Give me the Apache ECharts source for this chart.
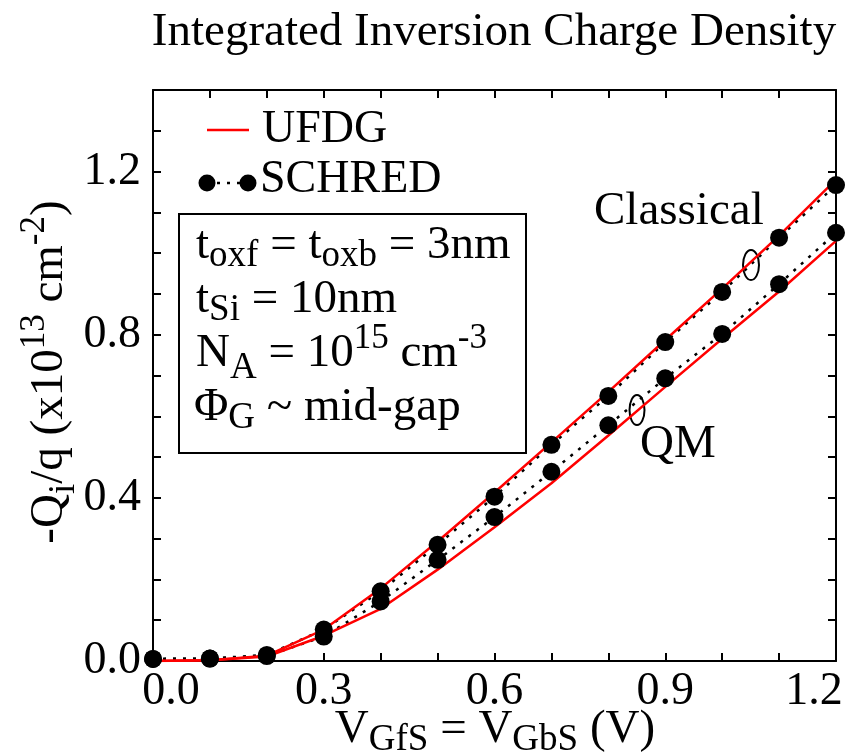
<!DOCTYPE html>
<html>
<head>
<meta charset="utf-8">
<script src="https://cdn.jsdelivr.net/npm/echarts@6/dist/echarts.min.js"></script>
<style>
  html, body { margin: 0; padding: 0; background: #fff; }
  #chart { width: 848px; height: 756px; }
</style>
</head>
<body>
<div id="chart"></div>
<script>
// gate voltage, V
const vgs = [0.0, 0.1, 0.2, 0.3, 0.4, 0.5, 0.6, 0.7, 0.8, 0.9, 1.0, 1.1, 1.2];
// UFDG model curves (x10^13 cm^-2)
const ufdgClassical = [0, 0.002, 0.013, 0.077, 0.178, 0.293, 0.413, 0.536, 0.66, 0.787, 0.913, 1.043, 1.18];
const ufdgQM = [0, 0.002, 0.011, 0.062, 0.128, 0.224, 0.328, 0.436, 0.553, 0.672, 0.79, 0.906, 1.03];
// SCHRED points
const schredClassical = [0.005, 0.006, 0.015, 0.077, 0.171, 0.285, 0.403, 0.53, 0.65, 0.782, 0.905, 1.038, 1.167];
const schredQM = [0.005, 0.006, 0.012, 0.06, 0.146, 0.248, 0.353, 0.464, 0.578, 0.693, 0.802, 0.924, 1.05];
const xLabelStep = 0.3;
const yLabelStep = 0.4;

const font = 'Liberation Serif';
const pairs = arr => vgs.map((v, i) => [v, arr[i]]);
const onStep = (v, step) => Math.abs(v / step - Math.round(v / step)) < 1e-6;

const richBase = {
    n: { fontFamily: font, fontSize: 47, lineHeight: 58, color: '#000' },
    sb: { fontFamily: font, fontSize: 37, lineHeight: 44, verticalAlign: 'bottom', color: '#000' },
    sp: { fontFamily: font, fontSize: 35, lineHeight: 66, verticalAlign: 'top', color: '#000' }
};

function baseAxis(extra) {
    return Object.assign({
        type: 'value',
        splitLine: { show: false },
        axisLine: { show: true, onZero: false, lineStyle: { color: '#000', width: 2 } },
        axisTick: { show: true, inside: true, length: 8, lineStyle: { color: '#000', width: 2 } },
    }, extra);
}

const chart = echarts.init(document.getElementById('chart'));
chart.setOption({
    animation: false,
    backgroundColor: '#fff',
    grid: { left: 153, right: 12, top: 90, bottom: 95 },
    xAxis: [
        baseAxis({
            min: 0, max: 1.2, interval: 0.1, position: 'bottom',
            axisLabel: {
                fontFamily: font, fontSize: 46, color: '#000', margin: 8,
                formatter: v => {
                    if (!onStep(v, xLabelStep)) return '';
                    if (v === 0) return '{lo|' + v.toFixed(1) + '}';
                    if (Math.abs(v - 1.2) < 1e-6) return '{hi|' + v.toFixed(1) + '}';
                    return v.toFixed(1);
                },
                rich: {
                    lo: { fontFamily: font, fontSize: 46, color: '#000', padding: [0, 0, 0, 36] },
                    hi: { fontFamily: font, fontSize: 46, color: '#000', padding: [0, 44, 0, 0] }
                }
            }
        }),
        baseAxis({ min: 0, max: 1.2, interval: 0.1, position: 'top', axisLabel: { show: false } })
    ],
    yAxis: [
        baseAxis({
            min: 0, max: 1.4, interval: 0.1, position: 'left',
            axisLabel: {
                fontFamily: font, fontSize: 46, color: '#000', margin: 12,
                formatter: v => onStep(v, yLabelStep) ? v.toFixed(1) : ''
            }
        }),
        baseAxis({ min: 0, max: 1.4, interval: 0.1, position: 'right', axisLabel: { show: false } })
    ],
    series: [
        {
            name: 'SCHRED Classical', type: 'line', data: pairs(schredClassical),
            symbol: 'circle', symbolSize: 18, clip: false,
            itemStyle: { color: '#000' },
            lineStyle: { color: '#000', width: 2.5, type: [3, 7] }
        },
        {
            name: 'SCHRED QM', type: 'line', data: pairs(schredQM),
            symbol: 'circle', symbolSize: 18, clip: false,
            itemStyle: { color: '#000' },
            lineStyle: { color: '#000', width: 2.5, type: [3, 7] }
        },
        {
            name: 'UFDG Classical', type: 'line', data: pairs(ufdgClassical),
            showSymbol: false, lineStyle: { color: '#ff0000', width: 2.5 }
        },
        {
            name: 'UFDG QM', type: 'line', data: pairs(ufdgQM),
            showSymbol: false, lineStyle: { color: '#ff0000', width: 2.5 }
        }
    ],
    graphic: [
        // title
        { type: 'text', x: 494, y: 33,
          style: { text: 'Integrated Inversion Charge Density', font: '47px "Liberation Serif"', fill: '#000',
                   align: 'center', verticalAlign: 'middle' } },
        // y axis title
        { type: 'text', x: 50, y: 372, rotation: Math.PI / 2,
          style: {
              text: '{n|-Q}{sb|i}{n|/q (x10}{sp|13}{n| cm}{sp|-2}{n|)}',
              rich: richBase, align: 'center', verticalAlign: 'middle'
          } },
        // x axis title
        { type: 'text', x: 495, y: 730,
          style: {
              text: '{n|V}{sb|GfS}{n| = V}{sb|GbS}{n| (V)}',
              rich: richBase, align: 'center', verticalAlign: 'middle'
          } },
        // legend
        { type: 'line', shape: { x1: 207, y1: 130, x2: 249, y2: 130 }, style: { stroke: '#ff0000', lineWidth: 2.5 } },
        { type: 'text', x: 262, y: 130,
          style: { text: 'UFDG', font: '46px "Liberation Serif"', fill: '#000', verticalAlign: 'middle' } },
        { type: 'line', shape: { x1: 207, y1: 183, x2: 248, y2: 183 },
          style: { stroke: '#000', lineWidth: 2.5, lineDash: [3, 7] } },
        { type: 'circle', shape: { cx: 207, cy: 183, r: 8.5 }, style: { fill: '#000' } },
        { type: 'circle', shape: { cx: 248, cy: 183, r: 8.5 }, style: { fill: '#000' } },
        { type: 'text', x: 260, y: 180,
          style: { text: 'SCHRED', font: '46px "Liberation Serif"', fill: '#000', verticalAlign: 'middle' } },
        // parameter box
        { type: 'rect', shape: { x: 179, y: 214, width: 347, height: 239 },
          style: { fill: 'none', stroke: '#000', lineWidth: 2 } },
        { type: 'text', x: 196, y: 246,
          style: { text: '{n|t}{sb|oxf}{n| = t}{sb|oxb}{n| = 3nm}', rich: richBase, verticalAlign: 'middle' } },
        { type: 'text', x: 196, y: 300,
          style: { text: '{n|t}{sb|Si}{n| = 10nm}', rich: richBase, verticalAlign: 'middle' } },
        { type: 'text', x: 196, y: 354,
          style: { text: '{n|N}{sb|A}{n| = 10}{sp|15}{n| cm}{sp|-3}', rich: richBase, verticalAlign: 'middle' } },
        { type: 'text', x: 194, y: 408,
          style: { text: '{n|\u03A6}{sb|G}{n| ~ mid-gap}', rich: richBase, verticalAlign: 'middle' } },
        // annotations
        { type: 'text', x: 594, y: 212,
          style: { text: 'Classical', font: '47px "Liberation Serif"', fill: '#000', verticalAlign: 'middle' } },
        { type: 'ellipse', shape: { cx: 751, cy: 265, rx: 8, ry: 15 }, style: { fill: 'none', stroke: '#000', lineWidth: 2 } },
        { type: 'text', x: 640, y: 445,
          style: { text: 'QM', font: '47px "Liberation Serif"', fill: '#000', verticalAlign: 'middle' } },
        { type: 'ellipse', shape: { cx: 637, cy: 410, rx: 7.5, ry: 15 }, style: { fill: 'none', stroke: '#000', lineWidth: 2 } }
    ]
});
</script>
</body>
</html>
